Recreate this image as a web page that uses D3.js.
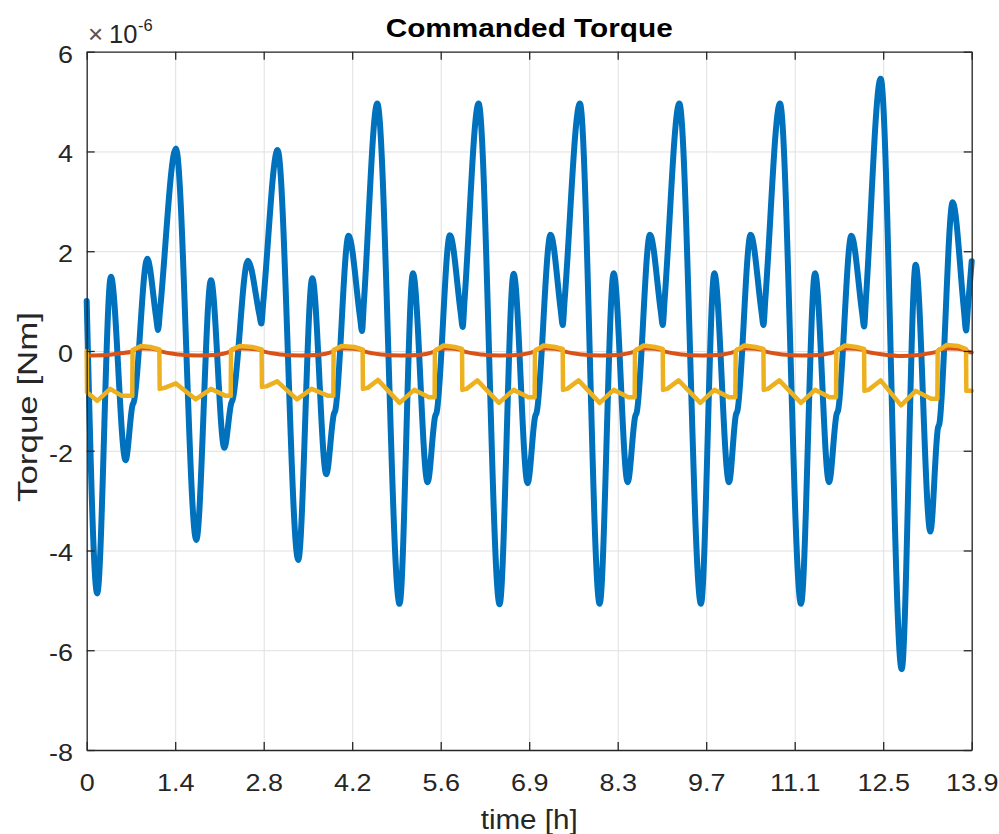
<!DOCTYPE html>
<html>
<head>
<meta charset="utf-8">
<script src="https://cdn.jsdelivr.net/npm/d3@7"></script>
<style>
  html, body { margin: 0; padding: 0; background: #fff; }
  svg { display: block; }
</style>
</head>
<body>
<svg id="chart" width="999" height="834"></svg>
<script>
// ---- Data: time [h], commanded torque [x 1e-6 Nm] ----

// time axis ticks every 5000 s (shown in hours)
const xTickValues = [0, 1.3889, 2.7778, 4.1667, 5.5556, 6.9444, 8.3333, 9.7222, 11.1111, 12.5, 13.8889];
const xTickLabels = ["0", "1.4", "2.8", "4.2", "5.6", "6.9", "8.3", "9.7", "11.1", "12.5", "13.9"];
const yTickValues = [-8, -6, -4, -2, 0, 2, 4, 6];
const yTickLabels = ["-8", "-6", "-4", "-2", "0", "2", "4", "6"];
const timeDomain = [0, 13.8889];
const torqueDomain = [-8, 6];

// first torque component (blue)
const torqueX = [
  [0.00, 1.00], [0.165, -4.86], [0.38, 1.49], [0.61, -2.19], [0.72, -1.08], [0.74, -1.02],
  [0.95, 1.85], [1.09, 0.67], [1.12, 0.42], [1.15, 0.80], [1.40, 4.06], [1.72, -3.79],
  [1.95, 1.42], [2.16, -1.94], [2.27, -1.04], [2.29, -0.98], [2.53, 1.81], [2.71, 0.73],
  [2.74, 0.55], [2.77, 0.96], [2.996, 4.03], [3.32, -4.19], [3.54, 1.46], [3.76, -2.47],
  [3.88, -1.26], [3.90, -1.20], [4.11, 2.31], [4.29, 0.67], [4.32, 0.40], [4.35, 0.97],
  [4.56, 4.96], [4.91, -5.07], [5.12, 1.56], [5.35, -2.63], [5.47, -1.30], [5.49, -1.24],
  [5.70, 2.32], [5.87, 0.76], [5.90, 0.48], [5.93, 1.02], [6.15, 4.96], [6.48, -5.08],
  [6.70, 1.55], [6.92, -2.65], [7.04, -1.30], [7.06, -1.24], [7.28, 2.33], [7.44, 0.81],
  [7.47, 0.52], [7.50, 1.01], [7.74, 4.96], [8.05, -5.07], [8.27, 1.56], [8.49, -2.63],
  [8.61, -1.30], [8.63, -1.24], [8.84, 2.33], [9.01, 0.79], [9.04, 0.52], [9.07, 1.03],
  [9.30, 4.96], [9.64, -5.07], [9.85, 1.56], [10.08, -2.63], [10.19, -1.27], [10.21, -1.21],
  [10.42, 2.33], [10.59, 0.79], [10.62, 0.52], [10.65, 1.03], [10.88, 4.96], [11.21, -5.07],
  [11.43, 1.56], [11.65, -2.63], [11.77, -1.26], [11.79, -1.20], [12.00, 2.31], [12.17, 0.76],
  [12.20, 0.49], [12.23, 1.06], [12.46, 5.46], [12.79, -6.38], [13.01, 1.73], [13.24, -3.62],
  [13.36, -1.54], [13.38, -1.47], [13.59, 2.98], [13.77, 0.78], [13.80, 0.41], [13.83, 0.88],
  [13.8889, 1.80]
];

// second torque component (red)
const torqueY = [
  [0.00, -0.09], [0.30, -0.08], [0.50, -0.05], [0.72, -0.01], [0.74, 0.03], [0.90, 0.05],
  [1.145, 0.02], [1.165, -0.01], [1.45, -0.07], [1.75, -0.09], [2.00, -0.08], [2.265, -0.01],
  [2.285, 0.03], [2.45, 0.05], [2.75, 0.02], [2.77, -0.01], [3.05, -0.07], [3.35, -0.09],
  [3.60, -0.08], [3.875, -0.01], [3.895, 0.03], [4.06, 0.05], [4.335, 0.02], [4.355, -0.01],
  [4.63, -0.07], [4.93, -0.09], [5.20, -0.08], [5.465, -0.01], [5.485, 0.03], [5.65, 0.05],
  [5.895, 0.02], [5.915, -0.01], [6.20, -0.07], [6.50, -0.09], [6.75, -0.08], [7.035, -0.01],
  [7.055, 0.03], [7.22, 0.05], [7.475, 0.02], [7.495, -0.01], [7.78, -0.07], [8.07, -0.09],
  [8.32, -0.08], [8.605, -0.01], [8.625, 0.03], [8.79, 0.05], [9.045, 0.02], [9.065, -0.01],
  [9.35, -0.07], [9.65, -0.09], [9.90, -0.08], [10.185, -0.01], [10.205, 0.03], [10.37, 0.05],
  [10.625, 0.02], [10.645, -0.01], [10.93, -0.07], [11.23, -0.09], [11.48, -0.08], [11.765, -0.01],
  [11.785, 0.03], [11.95, 0.05], [12.205, 0.02], [12.225, -0.01], [12.50, -0.07], [12.80, -0.10],
  [13.05, -0.08], [13.355, -0.01], [13.375, 0.03], [13.54, 0.05], [13.805, 0.02], [13.825, -0.01],
  [13.8889, -0.03]
];

// third torque component (yellow), switching between two modes
const torqueZ = [
  [0.00, 0.00], [0.005, -0.83], [0.165, -1.00], [0.37, -0.76], [0.55, -0.90], [0.715, -0.90],
  [0.72, 0.02], [0.85, 0.10], [1.00, 0.08], [1.14, 0.03], [1.145, -0.76], [1.22, -0.74],
  [1.40, -0.65], [1.71, -0.97], [1.95, -0.76], [2.18, -0.90], [2.26, -0.90], [2.265, 0.02],
  [2.40, 0.10], [2.60, 0.08], [2.745, 0.03], [2.75, -0.72], [2.82, -0.71], [2.99, -0.61],
  [3.30, -0.97], [3.53, -0.76], [3.79, -0.90], [3.87, -0.90], [3.875, 0.02], [4.00, 0.10],
  [4.20, 0.08], [4.33, 0.03], [4.335, -0.76], [4.41, -0.74], [4.57, -0.58], [4.91, -1.04],
  [5.14, -0.78], [5.37, -0.93], [5.46, -0.93], [5.465, 0.00], [5.60, 0.11], [5.78, 0.08],
  [5.89, 0.04], [5.895, -0.78], [5.96, -0.76], [6.13, -0.59], [6.47, -1.04], [6.70, -0.78],
  [6.93, -0.93], [7.03, -0.93], [7.035, 0.00], [7.17, 0.11], [7.35, 0.08], [7.47, 0.04],
  [7.475, -0.78], [7.54, -0.76], [7.72, -0.59], [8.05, -1.04], [8.27, -0.78], [8.50, -0.93],
  [8.60, -0.93], [8.605, 0.00], [8.74, 0.11], [8.92, 0.08], [9.04, 0.04], [9.045, -0.78],
  [9.11, -0.76], [9.29, -0.59], [9.63, -1.04], [9.85, -0.78], [10.08, -0.93], [10.18, -0.93],
  [10.185, 0.00], [10.32, 0.11], [10.50, 0.08], [10.62, 0.04], [10.625, -0.78], [10.69, -0.76],
  [10.87, -0.59], [11.21, -1.04], [11.43, -0.78], [11.66, -0.93], [11.76, -0.93], [11.765, 0.00],
  [11.90, 0.11], [12.08, 0.08], [12.20, 0.04], [12.205, -0.80], [12.27, -0.78], [12.46, -0.59],
  [12.78, -1.09], [13.01, -0.80], [13.25, -0.96], [13.35, -0.96], [13.355, 0.00], [13.50, 0.12],
  [13.68, 0.10], [13.80, 0.04], [13.805, -0.80], [13.8889, -0.80]
];

const seriesColors = ["#0072BD", "#D95319", "#EDB120"];

// ---- Layout ----
const plot = { left: 86.7, right: 971.7, top: 51.7, bottom: 750 };
const textColor = "#262626";
const fontFamily = "'Liberation Sans', Arial, Helvetica, sans-serif";

const svg = d3.select("#chart");
svg.append("rect").attr("width", 999).attr("height", 834).attr("fill", "#fff");

const x = d3.scaleLinear().domain(timeDomain).range([plot.left, plot.right]);
const y = d3.scaleLinear().domain(torqueDomain).range([plot.bottom, plot.top]);

const plotW = plot.right - plot.left;
const plotH = plot.bottom - plot.top;

// grid lines
const grid = svg.append("g").attr("class", "grid");
grid.append("g")
  .attr("transform", `translate(0,${plot.bottom})`)
  .call(d3.axisBottom(x).tickValues(xTickValues).tickSize(-plotH).tickFormat(""))
  .call(g => g.select(".domain").remove());
grid.append("g")
  .attr("transform", `translate(${plot.left},0)`)
  .call(d3.axisLeft(y).tickValues(yTickValues).tickSize(-plotW).tickFormat(""))
  .call(g => g.select(".domain").remove());
grid.selectAll("line").attr("stroke", "#e0e0e0").attr("stroke-width", 1);

// data lines
const lineSmooth = d3.line().x(d => x(d[0])).y(d => y(d[1])).curve(d3.curveMonotoneX);
const lineStep = d3.line().x(d => x(d[0])).y(d => y(d[1])).curve(d3.curveLinear);

const lines = svg.append("g").attr("class", "lines")
  .attr("fill", "none").attr("stroke-linejoin", "round").attr("stroke-linecap", "round");
lines.append("path").attr("d", lineSmooth(torqueX))
  .attr("stroke", seriesColors[0]).attr("stroke-width", 6);
lines.append("path").attr("d", lineSmooth(torqueY))
  .attr("stroke", seriesColors[1]).attr("stroke-width", 4);
lines.append("path").attr("d", lineStep(torqueZ))
  .attr("stroke", seriesColors[2]).attr("stroke-width", 4.5);

// axes (box with inward ticks on all four sides)
const tickLen = 8;
function styleAxis(g) {
  g.selectAll(".domain").attr("stroke", textColor).attr("stroke-width", 1.3);
  g.selectAll(".tick line").attr("stroke", textColor).attr("stroke-width", 1.3);
  g.selectAll("text").attr("fill", textColor).attr("font-family", fontFamily).attr("font-size", 24.5);
}

const xAxisBottom = svg.append("g")
  .attr("transform", `translate(0,${plot.bottom})`)
  .call(d3.axisBottom(x).tickValues(xTickValues).tickSizeInner(-tickLen).tickSizeOuter(0)
    .tickFormat((d, i) => xTickLabels[i]))
  .call(styleAxis);
xAxisBottom.selectAll("text").attr("y", 41).attr("dy", null)
  .attr("transform", "scale(1.1,1)");

const xAxisTop = svg.append("g")
  .attr("transform", `translate(0,${plot.top})`)
  .call(d3.axisTop(x).tickValues(xTickValues).tickSizeInner(-tickLen).tickSizeOuter(0).tickFormat(""))
  .call(styleAxis);

const yAxisLeft = svg.append("g")
  .attr("transform", `translate(${plot.left},0)`)
  .call(d3.axisLeft(y).tickValues(yTickValues).tickSizeInner(-tickLen).tickSizeOuter(0)
    .tickFormat((d, i) => yTickLabels[i]))
  .call(styleAxis);
yAxisLeft.selectAll("text").attr("x", -12.4).attr("y", 10.5).attr("dy", null)
  .attr("transform", "scale(1.1,1)");

const yAxisRight = svg.append("g")
  .attr("transform", `translate(${plot.right},0)`)
  .call(d3.axisRight(y).tickValues(yTickValues).tickSizeInner(-tickLen).tickSizeOuter(0).tickFormat(""))
  .call(styleAxis);

// exponent marker above the y axis
const expo = svg.append("g").attr("fill", textColor).attr("font-family", fontFamily);
expo.append("text").attr("x", 88).attr("y", 43).attr("font-size", 26).attr("fill", "#555").text("\u00d7");
expo.append("text").attr("x", 109).attr("y", 43.3).attr("font-size", 25.5).text("10");
expo.append("text").attr("x", 138).attr("y", 30.7).attr("font-size", 16.5).text("-6");

// title and axis labels
svg.append("text")
  .attr("x", (plot.left + plot.right) / 2).attr("y", 37.3)
  .attr("text-anchor", "middle").attr("font-family", fontFamily)
  .attr("font-weight", "bold").attr("font-size", 25).attr("fill", "#000")
  .attr("textLength", 287).attr("lengthAdjust", "spacingAndGlyphs")
  .text("Commanded Torque");

svg.append("text")
  .attr("x", (plot.left + plot.right) / 2).attr("y", 829)
  .attr("text-anchor", "middle").attr("font-family", fontFamily)
  .attr("font-size", 27).attr("fill", textColor)
  .attr("textLength", 97).attr("lengthAdjust", "spacingAndGlyphs")
  .text("time [h]");

svg.append("text")
  .attr("transform", "translate(36.5,407) rotate(-90)")
  .attr("text-anchor", "middle").attr("font-family", fontFamily)
  .attr("font-size", 28).attr("fill", textColor)
  .attr("textLength", 190).attr("lengthAdjust", "spacingAndGlyphs")
  .text("Torque [Nm]");
</script>
</body>
</html>
